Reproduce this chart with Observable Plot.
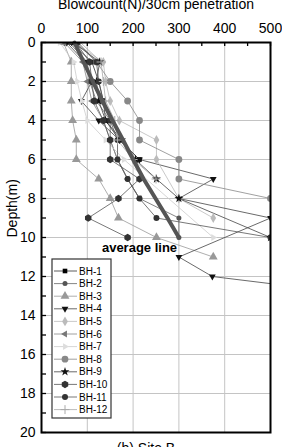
<!DOCTYPE html>
<html>
<head>
<meta charset="utf-8">
<script src="https://cdn.jsdelivr.net/npm/d3@7"></script>
<script src="https://cdn.jsdelivr.net/npm/@observablehq/plot@0.6"></script>
<style>
  html, body { margin: 0; padding: 0; background: #fff; overflow: hidden; }
  #chart svg { display: block; font-family: "Liberation Sans", Arial, sans-serif; }
</style>
</head>
<body>
<div id="chart"></div>
<script>
// Depth of each SPT reading (m)
const depth = [0, 1, 2, 3, 4, 5, 6, 7, 8, 9, 10, 11, 12, 13];

// Borehole names
const names = ["BH-1", "BH-2", "BH-3", "BH-4", "BH-5", "BH-6",
               "BH-7", "BH-8", "BH-9", "BH-10", "BH-11", "BH-12"];

// Blowcount N per 30 cm at each depth (null = no reading)
const bh1  = [65, 110, 125, 135, 140, 170, 214];
const bh2  = [60, 100, 105, 120, 150, 150, 166, 188, 214, 300, 300];
const bh3  = [48, 65, 65, 65, 68, 76, 76, 125, 150, 168, 251, 375];
const bh4  = [55, 95, 110, 87, 125, 170, 214, 375, 300, 500, null, 300, 373, 720];
const bh5  = [70, 135, 140, 150, 170, 251, 251, null, 300, 375];
const bh6  = [50, 90, 100, 110, 135, 150, 166, 188, 214];
const bh7  = [40, 70, 78, 88, 100, 140, 180, null, null, null, 375];
const bh8  = [75, 120, 150, 188, 214, 214, 300, 300, 500];
const bh9  = [70, 127, 120, 125, 140, 175, 205, 251, 300, null, 500];
const bh10 = [75, 105, 110, 115, 135, 150, 150, 214, 168, 102, 188];
const bh11 = [80, 120, 125, 135, 150, 166, 166, 188, 214, 251, 500];
const bh12 = [85, 130, 135, 140, 160, 166, 200, 250];

// Average line through all boreholes
const avgN = [72, 92, 112, 133, 155, 178, 200, 223, 249, 275, 300];

// Axis ticks
const xTicks = [0, 100, 200, 300, 400, 500];
const yTicks = [0, 2, 4, 6, 8, 10, 12, 14, 16, 18, 20];

// Extra marker shapes (d3 symbol type objects)
const rad = (size, k) => Math.sqrt(size / Math.PI) * k;
const triDown = {draw(c, s) { const R = rad(s, 1.3), h = R * 0.866;
  c.moveTo(0, R); c.lineTo(h, -R / 2); c.lineTo(-h, -R / 2); c.closePath(); }};
const triLeft = {draw(c, s) { const R = rad(s, 1.3), h = R * 0.866;
  c.moveTo(-R, 0); c.lineTo(R / 2, -h); c.lineTo(R / 2, h); c.closePath(); }};
const triRight = {draw(c, s) { const R = rad(s, 1.3), h = R * 0.866;
  c.moveTo(R, 0); c.lineTo(-R / 2, -h); c.lineTo(-R / 2, h); c.closePath(); }};
const hexagon = {draw(c, s) { const R = rad(s, 1.1);
  for (let i = 0; i < 6; i++) { const a = Math.PI / 3 * i + Math.PI / 6;
    i ? c.lineTo(R * Math.cos(a), R * Math.sin(a)) : c.moveTo(R * Math.cos(a), R * Math.sin(a)); }
  c.closePath(); }};

const series = [bh1, bh2, bh3, bh4, bh5, bh6, bh7, bh8, bh9, bh10, bh11, bh12];
const styles = [
  {symbol: d3.symbolSquare,   fill: "#000", line: "#333", r: 2.6},
  {symbol: d3.symbolCircle,   fill: "#555", line: "#666", r: 2.5},
  {symbol: d3.symbolTriangle, fill: "#999", line: "#999", r: 3.3},
  {symbol: triDown,           fill: "#111", line: "#444", r: 3.0},
  {symbol: d3.symbolDiamond,  fill: "#bbb", line: "#bbb", r: 3.0},
  {symbol: triLeft,           fill: "#777", line: "#888", r: 3.0},
  {symbol: triRight,          fill: "#ddd", line: "#ccc", r: 3.0},
  {symbol: d3.symbolCircle,   fill: "#888", line: "#888", r: 3.4},
  {symbol: d3.symbolStar,     fill: "#111", line: "#444", r: 2.8},
  {symbol: hexagon,           fill: "#333", line: "#555", r: 3.4},
  {symbol: d3.symbolCircle,   fill: "#333", line: "#555", r: 3.0},
  {symbol: "plus",            fill: "none", stroke: "#aaa", line: "#aaa", r: 3.0}
];

const tables = series.map((vals, i) =>
  vals.map((n, j) => ({n, depth: depth[j], bh: names[i]})).filter(d => d.n != null));
const avgTable = avgN.map((n, j) => ({n, depth: depth[j]}));

const W = 282, H = 447, mT = 42, mB = 15, mL = 41, mR = 12;
const plotW = W - mL - mR, plotH = H - mT - mB;
const font = "Liberation Sans, Arial, sans-serif";

const marks = [
  Plot.gridX([100, 200, 300, 400], {stroke: "#c4c4c4", strokeOpacity: 1, strokeWidth: 1}),
  Plot.gridY(d3.range(2, 20, 2), {stroke: "#c4c4c4", strokeOpacity: 1, strokeWidth: 1}),
  // inward ticks on the top and left edges
  Plot.tickX(d3.range(0, 501, 50), {x: d => d, stroke: "#000", strokeWidth: 1.3, insetBottom: plotH - 4}),
  Plot.tickY(d3.range(0, 21, 1), {y: d => d, stroke: "#000", strokeWidth: 1.3, insetRight: plotW - 5}),
  Plot.axisX(xTicks, {anchor: "top", tickSize: 0, tickPadding: 10, fontSize: 14, label: null}),
  Plot.axisY(yTicks, {anchor: "left", tickSize: 0, tickPadding: 6, fontSize: 14, label: null})
];

tables.forEach((t, i) => {
  const s = styles[i];
  marks.push(Plot.line(t, {x: "n", y: "depth", stroke: s.line, strokeWidth: 0.8, clip: true}));
});
tables.forEach((t, i) => {
  const s = styles[i];
  marks.push(Plot.dot(t, {x: "n", y: "depth", symbol: s.symbol, r: s.r,
    fill: s.fill, stroke: s.stroke || "none", strokeWidth: 1, clip: true}));
});

marks.push(
  Plot.line(avgTable, {x: "n", y: "depth", stroke: "#555", strokeWidth: 4}),
  Plot.text([{n: 214, depth: 10.55, label: "average line"}],
    {x: "n", y: "depth", text: "label", fontSize: 13, fontWeight: "bold", fill: "#000"}),
  Plot.frame({stroke: "#000", strokeWidth: 2}),
  Plot.text(["Blowcount(N)/30cm penetration"],
    {frameAnchor: "top", dy: -34, lineAnchor: "bottom", fontSize: 14, fill: "#000"}),
  Plot.text(["Depth(m)"],
    {frameAnchor: "left", dx: -29, rotate: -90, fontSize: 14, fill: "#000"}),
  Plot.text(["(b) Site B"],
    {frameAnchor: "bottom", dx: -10, dy: 11, lineAnchor: "top", fontSize: 14, fill: "#000"})
);

const chart = Plot.plot({
  width: W, height: H,
  marginTop: mT, marginBottom: mB, marginLeft: mL, marginRight: mR,
  style: {fontFamily: font, fontSize: "14px", color: "#000", background: "#fff"},
  x: {domain: [0, 500], axis: null},
  y: {domain: [0, 20], reverse: true, axis: null},
  marks
});

// Legend box listing every borehole
const svg = d3.select(chart);
const lg = svg.append("g").attr("font-family", font).attr("font-size", 10)
  .attr("text-anchor", "start");
const bx = 52, by = 259, bw = 59, bh = 159, row0 = 271, step = 12.6;
lg.append("rect").attr("x", bx).attr("y", by).attr("width", bw).attr("height", bh)
  .attr("fill", "#fff").attr("stroke", "#333").attr("stroke-width", 1.2);
names.forEach((name, i) => {
  const s = styles[i], y = row0 + i * step;
  lg.append("line").attr("x1", bx + 2).attr("x2", bx + 25).attr("y1", y).attr("y2", y)
    .attr("stroke", s.line).attr("stroke-width", 0.8);
  const type = s.symbol === "plus" ? d3.symbolPlus : s.symbol;
  lg.append("path").attr("transform", `translate(${bx + 13},${y})`)
    .attr("d", d3.symbol(type, Math.PI * s.r * s.r)())
    .attr("fill", s.fill).attr("stroke", s.stroke || "none");
  lg.append("text").attr("x", bx + 27).attr("y", y).attr("dy", "0.35em")
    .attr("text-anchor", "start").attr("fill", "#000").text(name);
});

document.getElementById("chart").appendChild(chart);
</script>
</body>
</html>
